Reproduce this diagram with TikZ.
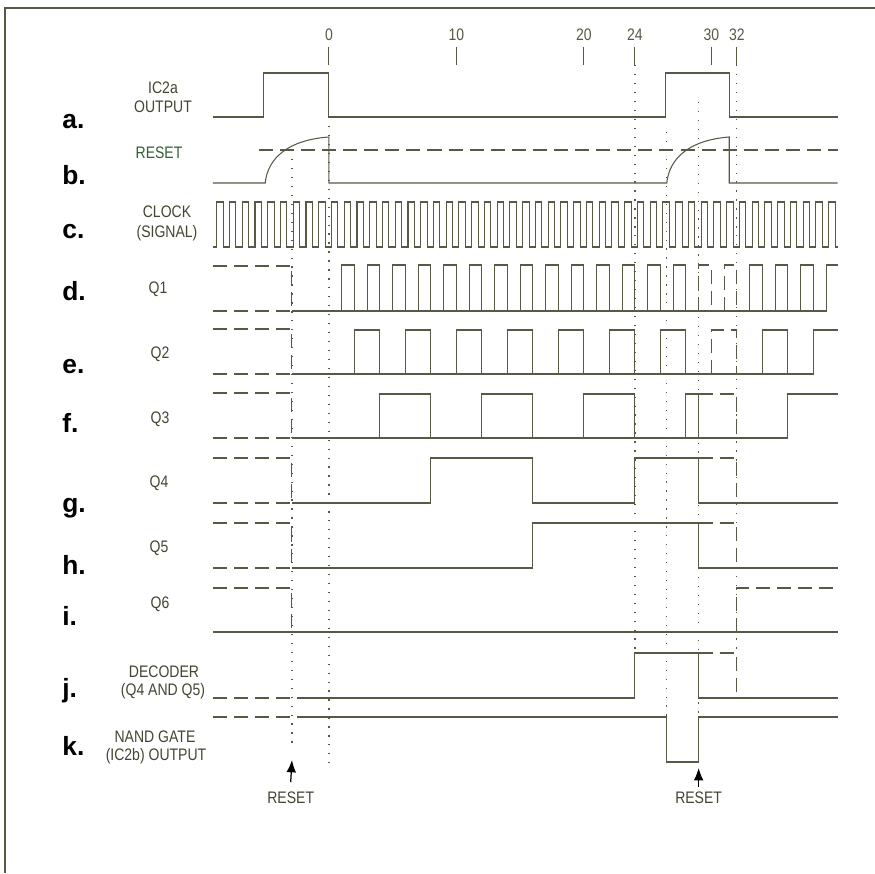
\documentclass[tikz,border=0pt]{standalone}
\usepackage{fontspec}
\setmainfont{Liberation Sans}
\newfontfamily\narrowfont[FakeStretch=0.84]{Liberation Sans}
\usepackage{tikz}
\usetikzlibrary{arrows.meta}
\definecolor{trace}{RGB}{88,88,68}
\definecolor{ink}{RGB}{66,70,48}
\definecolor{inkgreen}{RGB}{48,96,52}
\tikzset{
	wave/.style={draw=trace,line width=0.6pt},
	ghost/.style={wave,dash pattern=on 8pt off 4pt},
	guide/.style={draw=trace,line width=0.7pt,dash pattern=on 0.7pt off 4.4pt},
	rowlabel/.style={anchor=base west,inner sep=0pt,font=\fontsize{15pt}{15pt}\bfseries},
	signame/.style={anchor=base,inner sep=0pt,text=ink,font=\narrowfont\fontsize{9.5pt}{10pt}\selectfont},
}

\begin{document}
\begin{tikzpicture}[x=0.02cm,y=-0.02cm]
				\useasboundingbox (0,0) rectangle (875,873);
				\draw[line width=1pt,draw=trace] (5,873) -- (5,8) -- (875,8);
				\foreach \n/\y in {a/128, b/184, c/238, d/300, e/373, f/432, g/512, h/574, i/625, j/697, k/755}
				{\node[rowlabel] (row\n) at (62,\y) {\n.};}
				\foreach \n/\x/\y/\s in {ica/163/93/IC2a, icb/163/112/OUTPUT, clk/167/217/CLOCK, sig/167/237/(SIGNAL), q1/158/293/Q1, q2/160/358/Q2, q3/160/423/Q3, q4/159/487/Q4, q5/159/552/Q5, q6/160/608/Q6, dec/164/677/DECODER, dan/163/695/(Q4 AND Q5), nnd/155/742/NAND GATE, nout/156/760/(IC2b) OUTPUT}
				{\node[signame] (\n) at (\x,\y) {\s};}
				\node[signame,text=inkgreen] (rstb) at (159,158) {RESET};
	\begin{scope}[xshift=6.58cm,x=0.255cm]
				\foreach \t in {0,10,20,24,30,32}
				{\draw[wave] (\t,47) -- (\t,65); \node[signame,text=trace] (tick\t) at (\t,40) {\t};}
				\draw[wave] (-9.1,117) -- (-5.1,117) -- (-5.1,73) -- (0,73) -- (0,117) -- (26.4,117) -- (26.4,73) -- (31.4,73) -- (31.4,117) -- (39.9,117);
				\draw[wave] (-9.1,183) -- (-5,183) .. controls (-4.8,158) and (-3.2,140) .. (0,137) -- (0,183) -- (26.5,183) .. controls (26.7,158) and (28.3,140) .. (31.4,137) -- (31.4,183) -- (39.9,183);
				\draw[ghost] (-5.5,150) -- (39.9,150);
				\draw[wave] (-9.1,247) \foreach \k in {0,...,48} { -- ({\k-8.8},247) -- ({\k-8.8},202) -- ({\k-8.3},202) -- ({\k-8.3},247) } -- (39.9,247);
				\foreach \lo in {311,374,438,503,568}
				{\draw[ghost] (-9.1,{\lo-45}) -- (-2.9,{\lo-45}) -- (-2.9,\lo); \draw[ghost] (-9.1,\lo) -- (-2.9,\lo);}
				\draw[ghost] (-9.1,588) -- (-2.9,588) -- (-2.9,632);
				\draw[wave] (-2.9,311) -- (39,311) -- (39,265) -- (39.9,265);
				\foreach \k in {1,3,...,27,33,35,37}
				{\draw[wave] (\k,311) -- (\k,265) -- ({\k+1},265) -- ({\k+1},311);}
				\draw[ghost] (29,311) -- (29,265) -- (30,265) -- (30,311) (31,311) -- (31,265) -- (32,265) -- (32,311);
				\draw[wave] (-2.9,374) -- (38,374) -- (38,330) -- (39.9,330);
				\foreach \k in {2,6,...,26,34}
				{\draw[wave] (\k,374) -- (\k,330) -- ({\k+2},330) -- ({\k+2},374);}
				\draw[ghost] (30,374) -- (30,330) -- (32,330) -- (32,374);
				\draw[wave] (-2.9,438) -- (36,438) -- (36,394) -- (39.9,394);
				\foreach \k in {4,12,20}
				{\draw[wave] (\k,438) -- (\k,394) -- ({\k+4},394) -- ({\k+4},438);}
				\draw[wave] (28,438) -- (28,394) -- (29,394) -- (29,438);
				\draw[ghost] (29,394) -- (32,394) -- (32,438);
				\draw[wave] (-2.9,503) -- (8,503) -- (8,458) -- (16,458) -- (16,503) -- (24,503) -- (24,458) -- (29,458) -- (29,503) -- (39.9,503);
				\draw[ghost] (29,458) -- (32,458) -- (32,503);
				\draw[wave] (-2.9,568) -- (16,568) -- (16,523) -- (29,523) -- (29,568) -- (39.9,568);
				\draw[ghost] (29,523) -- (32,523) -- (32,568);
				\draw[wave] (-9.1,632) -- (39.9,632);
				\draw[ghost] (32,632) -- (32,588) -- (39.9,588);
				\draw[ghost] (-9.1,698) -- (-2.3,698);
				\draw[wave] (-2.3,698) -- (24,698) -- (24,653) -- (29,653) -- (29,698) -- (39.9,698);
				\draw[ghost] (29,653) -- (32,653) -- (32,698);
				\draw[ghost] (-9.1,717) -- (-2.3,717);
				\draw[wave] (-2.3,717) -- (26.5,717) -- (26.5,762) -- (29,762) -- (29,717) -- (39.9,717);
				\foreach \t/\a/\b in {-2.9/150/750, 0/117/770, 24/65/653, 26.5/132/717, 29/102/717, 32/65/653}
				{\draw[guide] (\t,\a) -- (\t,\b);}
				\node[signame,inner ysep=5pt] (rstA) at (-3,803) {RESET};
				\node[signame,inner ysep=2.3pt] (rstB) at (29,803) {RESET};
				\coordinate (tipA) at (-2.9,760);
				\coordinate (tipB) at (29,768);
				\draw[line width=0.7pt,-{Latex[length=7pt,width=5.5pt]}] (rstA.north) -- (tipA);
				\draw[line width=0.7pt,-{Latex[length=7pt,width=5.5pt]}] (rstB.north) -- (tipB);
	\end{scope}
\end{tikzpicture}
\end{document}
